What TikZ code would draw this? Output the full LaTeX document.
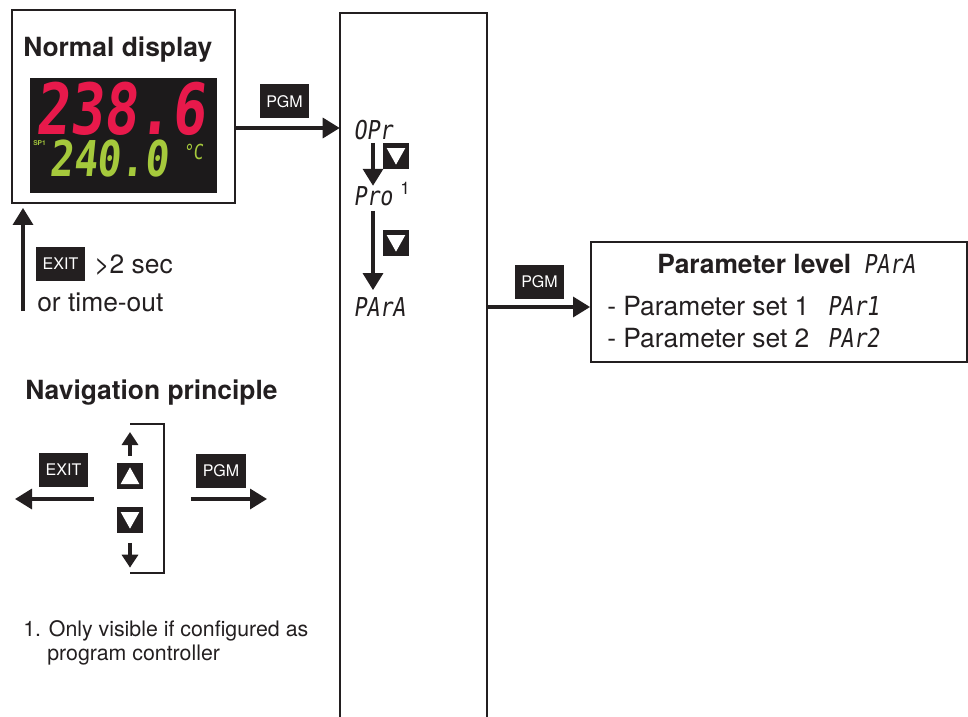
\documentclass[tikz,border=0pt]{standalone}
\usepackage{fontspec}
\setmainfont{TeX Gyre Heros}
\newfontfamily\lcdfont{DejaVu Sans Mono}[FakeSlant=0.15, FakeStretch=0.83]
\newfontfamily\segfont{DejaVu Sans Mono}[FakeSlant=0.1, FakeStretch=0.8]
\usetikzlibrary{arrows.meta, positioning}
\definecolor{ink}{HTML}{231F20}
\definecolor{segred}{HTML}{E8194B}
\definecolor{seggreen}{HTML}{A5C93C}
\definecolor{lcdback}{HTML}{1C1A1B}

\tikzset{
  panel/.style={draw=ink, line width=1.4pt, inner sep=0pt},
  keybox/.style={fill=ink, text=white, minimum width=36.8pt, minimum height=25.5pt,
    inner sep=0pt, font=\fontsize{12}{12}\selectfont},
  arrowkey/.style={fill=ink, minimum width=19.5pt, minimum height=20pt, inner sep=0pt},
  downkey/.style={arrowkey, path picture={
    \fill[white] ([shift={(-7pt,6pt)}]path picture bounding box.center)
      -- ([shift={(7pt,6pt)}]path picture bounding box.center)
      -- ([shift={(0pt,-6.5pt)}]path picture bounding box.center) -- cycle;}},
  upkey/.style={arrowkey, path picture={
    \fill[white] ([shift={(-7pt,-6pt)}]path picture bounding box.center)
      -- ([shift={(7pt,-6pt)}]path picture bounding box.center)
      -- ([shift={(0pt,6.5pt)}]path picture bounding box.center) -- cycle;}},
  flow/.style={draw=ink, line width=2.5pt, -{Triangle[length=12.75pt, width=15pt]}},
  flowsm/.style={draw=ink, line width=2.5pt, -{Triangle[length=9.75pt, width=12pt]}},
  txt/.style={anchor=base west, inner sep=0pt, text=ink, font=\fontsize{19.8}{24}\selectfont},
  head/.style={txt, font=\fontsize{19.8}{24}\selectfont\bfseries},
  note/.style={txt, font=\fontsize{16}{19}\selectfont},
  lcd/.style={anchor=base west, inner sep=0pt, text=ink, font=\lcdfont\fontsize{19.5}{20}\selectfont},
  seg/.style={anchor=base west, inner sep=0pt, text=seggreen},
}

\begin{document}
\begin{tikzpicture}[x=0.75pt, y=-0.75pt]
  \useasboundingbox (0,0) rectangle (968,717);

  %% Normal display with the controller screen
  \node[panel, minimum width=167.25pt, minimum height=144.75pt] (normal) at (123.5,106.5) {};
  \node[head] (normaltitle) at (23,57) {Normal display};
  \node[fill=lcdback, minimum width=140.25pt, minimum height=86.25pt, inner sep=0pt] (screen) at (123.5,135.5) {};
  \node[seg, text=segred, font=\segfont\bfseries\fontsize{53}{53}\selectfont] (pv) at (35,135) {238.6};
  \node[seg, font=\segfont\bfseries\fontsize{37}{37}\selectfont] (sv) at (49,176) {240.0};
  \node[seg, font=\segfont\fontsize{15.5}{16}\selectfont] (unit) at (183,160) {°C};
  \node[seg, font=\bfseries\fontsize{5}{6}\selectfont] (sp) at (33,146) {SP1};

  % return path
  \node[keybox] (exitA) at (60.5,264) {EXIT};
  \node[txt] (hold) at (94,273) {>2 sec};
  \node[txt] (timeout) at (37,311) {or time-out};
  \coordinate (back) at (23,311);
  \draw[flow, shorten >=3pt] (back) -- (back |- normal.south);

  %% Level column (open at the bottom)
  \node[minimum width=110.25pt, minimum height=528pt, inner sep=0pt] (column) at (413.5,365) {};
  \draw[ink, line width=1.4pt] (column.south west) -- (column.north west)
    -- (column.north east) -- (column.south east);

  \node[keybox] (pgmA) at (284.5,101.5) {PGM};
  \coordinate (inA) at (column.west |- 0,128);
  \draw[flow] (normal.east |- inA) -- (inA);

  \node[lcd] (opr) at (353,139) {OPr};
  \node[lcd] (pro) at (353,205) {Pro};
  \node[anchor=base west, inner sep=0pt, text=ink, font=\fontsize{13}{13}\selectfont] (mark) at (400,194) {1};
  \node[lcd] (para) at (353,316) {PArA};
  \node[downkey] (dnA) at (396,156) {};
  \node[downkey] (dnB) at (396,243) {};
  \draw[flow] ([xshift=15pt,yshift=-2.5pt]opr.south west) -- ([xshift=15pt]pro.north west);
  \draw[flow] ([xshift=15pt,yshift=-4pt]pro.south west) -- ([xshift=15pt,yshift=5pt]para.north west);

  %% Parameter level
  \node[panel, minimum width=282pt, minimum height=90pt] (param) at (779,302) {};
  \node[head] (paramtitle) at (657,273) {Parameter level};
  \node[lcd] (paramcode) at (863,273) {PArA};
  \foreach \n/\y in {1/315, 2/347}{
    \node[txt] (set\n) at (607,\y) {- Parameter set \n};
    \node[lcd] (par\n) at (827,\y) {PAr\n};
  }
  \node[keybox] (pgmB) at (539.5,281.5) {PGM};
  \coordinate (outB) at (column.east |- 0,307);
  \draw[flow] (outB) -- (param.west |- outB);

  %% Navigation principle
  \node[head] (navtitle) at (25,399) {Navigation principle};
  \node[keybox] (exitB) at (63.5,470) {EXIT};
  \node[keybox] (pgmC) at (221,471) {PGM};
  \node[upkey] (upk) at (130,476) {};
  \node[downkey] (dnk) at (130,520) {};
  \coordinate (navL) at (15,499);
  \coordinate (navR) at (267,499);
  \draw[flow] (exitB.east |- navL) ++(4pt,0) -- (navL);
  \draw[flow] (pgmC.west |- navR) ++(-4pt,0) -- (navR);
  \coordinate (brTop) at (130,424);
  \coordinate (brBot) at (130,573);
  \draw[ink, line width=2pt] (brTop) -- (164,424) -- (164,573) -- (brBot);
  \draw[flowsm, shorten >=6pt] ([yshift=5pt]upk.north) -- (brTop);
  \draw[flowsm, shorten >=4pt] ([yshift=-7pt]dnk.south) -- (brBot);

  % footnote
  \node[note] (fnA) at (23,636) {1. Only visible if configured as};
  \node[note] (fnB) at (47,660) {program controller};
\end{tikzpicture}
\end{document}
